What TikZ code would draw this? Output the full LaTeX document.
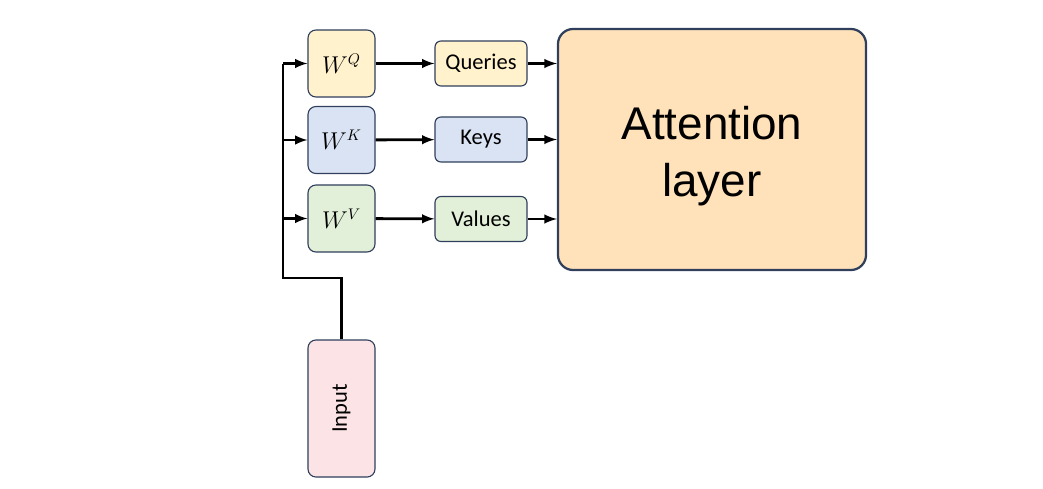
\documentclass[tikz,border=0pt]{standalone}
\usepackage{fontspec}
\setmainfont{Carlito}
\newfontfamily\arialfont{Liberation Sans}
\usetikzlibrary{shapes, positioning, arrows}

\definecolor{qfill}{HTML}{FFF2CC}
\definecolor{kfill}{HTML}{DAE3F3}
\definecolor{vfill}{HTML}{E2F0D9}
\definecolor{infill}{HTML}{FCE4E6}
\definecolor{attfill}{HTML}{FFE1BA}
\definecolor{edge}{HTML}{2F3F5C}

\begin{document}
\begin{tikzpicture}[
        x=0.025cm, y=-0.025cm,
        box/.style={draw=edge, line width=0.8pt, rounded corners=0.2cm, font=\fontsize{16}{19}\selectfont},
        wbox/.style={box, minimum width=1.675cm, minimum height=1.675cm},
        vecbox/.style={box, minimum width=2.3cm, minimum height=1.125cm, rounded corners=0.15cm},
        conn/.style={line width=2pt, -latex}
      ]
      \useasboundingbox (0,0) rectangle (1043,488);
      % weight matrices
      \node[wbox, fill=qfill] (wq) at (341.5,63.5) {$W^Q$};
      \node[wbox, fill=kfill] (wk) at (341.5,140) {$W^K$};
      \node[wbox, fill=vfill] (wv) at (341.5,218.5) {$W^V$};
      % projected vectors
      \node[vecbox, fill=qfill] (q) at (481,63.5) {Queries};
      \node[vecbox, fill=kfill] (k) at (481,139.5) {Keys};
      \node[vecbox, fill=vfill] (v) at (481,219) {Values};
      \node[box, fill=attfill, line width=1.6pt, rounded corners=0.38cm,
            minimum width=7.7cm, minimum height=6.025cm] (att) at (712,149.5) {};
      \node[align=center, font=\arialfont\fontsize{32.6}{40.5}\selectfont] (attlabel) at ([yshift=-0.16cm]att.center) {Attention\\layer};
      \node[box, fill=infill, minimum width=1.675cm, minimum height=3.425cm] (in) at (341.5,408.5) {\rotatebox{90}{Input}};
      % input trunk
      \coordinate (bend) at (283,278);
      \draw[line width=2pt] (in.north) |- (bend) -- (bend |- wq.west);
      \draw[conn] (bend |- wq.west) -- (wq.west);
      \draw[conn] (bend |- wk.west) -- (wk.west);
      \draw[conn] (bend |- wv.west) -- (wv.west);
      \draw[conn] (wq) -- (q);
      \draw[conn] (wk) -- (k);
      \draw[conn] (wv) -- (v);
      \draw[conn] (q) -- (att.west |- q);
      \draw[conn] (k) -- (att.west |- k);
      \draw[conn] (v) -- (att.west |- v);
\end{tikzpicture}
\end{document}
